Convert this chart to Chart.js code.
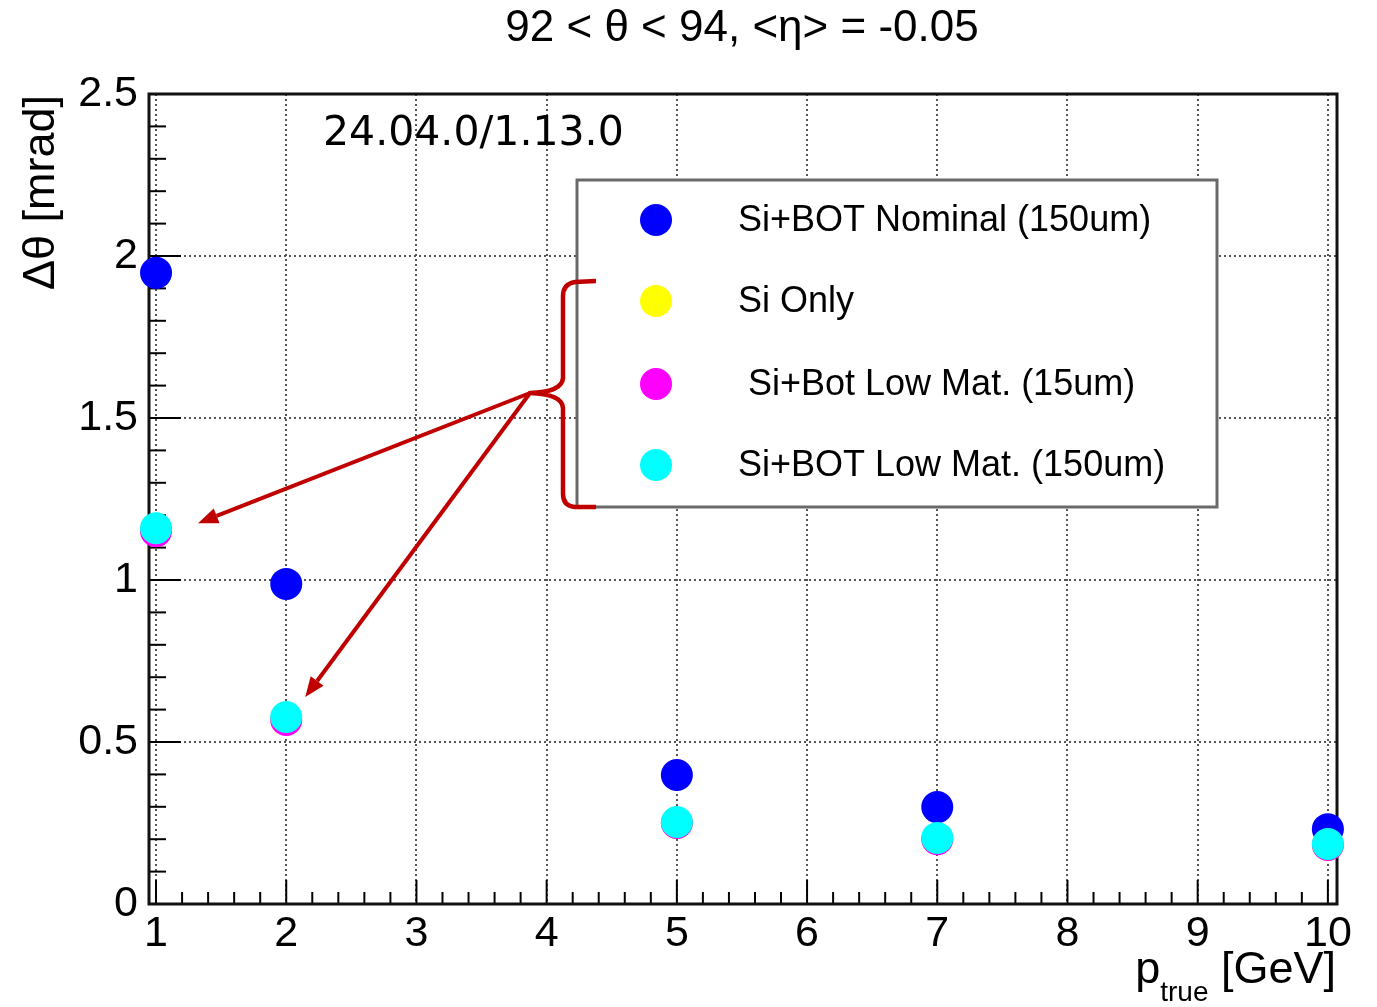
<!DOCTYPE html>
<html>
<head>
<meta charset="utf-8">
<script src="https://cdn.jsdelivr.net/npm/chart.js@4"></script>
<style>
html,body{margin:0;padding:0;background:#fff;}
canvas{display:block;}
</style>
</head>
<body>
<canvas id="c" width="1377" height="1007"></canvas>
<script>
// ---- data ----
const pTrue = [1, 2, 5, 7, 10];
const siBotNominal150 = [1.948, 0.988, 0.398, 0.299, 0.231];
const siOnly = [1.152, 0.570, 0.250, 0.201, 0.183];
const siBotLowMat15 = [1.151, 0.568, 0.250, 0.200, 0.182];
const siBotLowMat150 = [1.160, 0.577, 0.253, 0.204, 0.185];
const xTickValues = [1, 2, 3, 4, 5, 6, 7, 8, 9, 10];
const yTickValues = [0, 0.5, 1, 1.5, 2, 2.5];
const yTickLabels = ['0', '0.5', '1', '1.5', '2', '2.5'];
const seriesNames = ['Si+BOT Nominal (150um)', 'Si Only', ' Si+Bot Low Mat. (15um)', 'Si+BOT Low Mat. (150um)'];
const seriesColors = ['#0000ff', '#ffff00', '#ff00ff', '#00ffff'];
const titleText = '92 < \u03b8 < 94, <\u03b7> = -0.05';
const versionText = '24.04.0/1.13.0';

const FONT = '"Liberation Sans", Arial, Helvetica, sans-serif';
const allSeries = [siBotNominal150, siOnly, siBotLowMat15, siBotLowMat150];

const datasets = allSeries.map((vals, i) => ({
  label: seriesNames[i],
  data: pTrue.map((x, j) => ({x: x, y: vals[j]})),
  backgroundColor: seriesColors[i],
  borderColor: seriesColors[i],
  borderWidth: 0,
  pointRadius: 16,
  pointHoverRadius: 16,
  showLine: false,
  clip: false,
  order: 4 - i
}));

const decor = {
  id: 'decor',
  beforeDatasetsDraw(chart) {
    const ctx = chart.ctx, a = chart.chartArea;
    const xs = chart.scales.x, ys = chart.scales.y;
    ctx.save();
    ctx.strokeStyle = '#000';
    ctx.lineWidth = 2;
    for (let k = 0; k <= 25; k++) {
      const v = k / 10;
      const py = ys.getPixelForValue(v);
      const len = (k % 5 === 0) ? 32 : 17;
      ctx.beginPath(); ctx.moveTo(a.left, py); ctx.lineTo(a.left + len, py); ctx.stroke();
    }
    for (let k = 5; k <= 50; k++) {
      const v = k / 5;
      const px = xs.getPixelForValue(v);
      if (px < a.left || px > a.right) continue;
      const len = (k % 5 === 0) ? 24 : 12;
      ctx.beginPath(); ctx.moveTo(px, a.bottom); ctx.lineTo(px, a.bottom - len); ctx.stroke();
    }
    ctx.lineWidth = 3;
    ctx.strokeStyle = '#111';
    ctx.strokeRect(a.left, a.top, a.right - a.left, a.bottom - a.top);
    ctx.restore();
  },
  afterDraw(chart) {
    const ctx = chart.ctx, a = chart.chartArea;
    const xs = chart.scales.x, ys = chart.scales.y;
    ctx.save();
    ctx.fillStyle = '#000';
    ctx.font = '44px ' + FONT;
    ctx.textAlign = 'center';
    ctx.textBaseline = 'middle';
    ctx.fillText(titleText, 742, 29);
    ctx.save();
    ctx.translate(42, 95);
    ctx.rotate(-Math.PI / 2);
    ctx.textAlign = 'right';
    ctx.textBaseline = 'middle';
    ctx.font = '45px ' + FONT;
    ctx.fillText('\u0394\u03b8 [mrad]', 0, 0);
    ctx.restore();
    ctx.textBaseline = 'alphabetic';
    ctx.textAlign = 'right';
    ctx.font = '45px ' + FONT;
    const gev = ' [GeV]';
    const wGev = ctx.measureText(gev).width;
    ctx.fillText(gev, 1336, 983);
    ctx.font = '28px ' + FONT;
    const wTrue = ctx.measureText('true').width;
    ctx.fillText('true', 1336 - wGev, 1001);
    ctx.font = '45px ' + FONT;
    ctx.fillText('p', 1336 - wGev - wTrue, 983);
    ctx.font = '41px "DejaVu Sans", sans-serif';
    ctx.textAlign = 'left';
    ctx.textBaseline = 'middle';
    ctx.fillText(versionText, 323, 134);

    const L = {l: 577, t: 180, r: 1217, b: 507};
    ctx.fillStyle = '#fff';
    ctx.fillRect(L.l, L.t, L.r - L.l, L.b - L.t);
    ctx.strokeStyle = '#6a6a6a';
    ctx.lineWidth = 3;
    ctx.strokeRect(L.l, L.t, L.r - L.l, L.b - L.t);
    const rowsY = [220, 301, 384, 465];
    ctx.font = '36px ' + FONT;
    ctx.textAlign = 'left';
    ctx.textBaseline = 'middle';
    seriesNames.forEach((n, i) => {
      ctx.fillStyle = seriesColors[i];
      ctx.beginPath(); ctx.arc(656, rowsY[i], 16, 0, Math.PI * 2); ctx.fill();
      ctx.fillStyle = '#000';
      ctx.fillText(n, 738, rowsY[i] + 1);
    });

    const red = '#c00000';
    ctx.strokeStyle = red;
    ctx.lineWidth = 4.5;
    ctx.lineJoin = 'round';
    ctx.beginPath();
    ctx.moveTo(596, 281);
    ctx.lineTo(575, 282);
    ctx.quadraticCurveTo(563, 284, 563, 296);
    ctx.lineTo(563, 378);
    ctx.quadraticCurveTo(562, 392, 530, 393);
    ctx.quadraticCurveTo(562, 394, 563, 408);
    ctx.lineTo(563, 494);
    ctx.quadraticCurveTo(563, 506, 575, 507);
    ctx.lineTo(596, 507);
    ctx.stroke();

    const origin = {x: 530, y: 393};
    const targets = [
      {x: xs.getPixelForValue(pTrue[0]) + 42, y: ys.getPixelForValue(siBotLowMat150[0]) - 5},
      {x: xs.getPixelForValue(pTrue[1]) + 19, y: ys.getPixelForValue(siBotLowMat150[1]) - 20}
    ];
    ctx.fillStyle = red;
    ctx.lineWidth = 4;
    targets.forEach(t => {
      const ang = Math.atan2(t.y - origin.y, t.x - origin.x);
      const hl = 20, hw = 8;
      const bx = t.x - hl * Math.cos(ang), by = t.y - hl * Math.sin(ang);
      ctx.beginPath(); ctx.moveTo(origin.x, origin.y); ctx.lineTo(bx, by); ctx.stroke();
      ctx.beginPath();
      ctx.moveTo(t.x, t.y);
      ctx.lineTo(bx + hw * Math.sin(ang), by - hw * Math.cos(ang));
      ctx.lineTo(bx - hw * Math.sin(ang), by + hw * Math.cos(ang));
      ctx.closePath(); ctx.fill();
    });
    ctx.restore();
  }
};

new Chart(document.getElementById('c'), {
  type: 'scatter',
  data: {datasets: datasets},
  options: {
    responsive: false,
    animation: false,
    devicePixelRatio: 1,
    layout: {padding: {top: 94, right: 40, left: 0, bottom: 0}},
    plugins: {legend: {display: false}, title: {display: false}, tooltip: {enabled: false}},
    scales: {
      x: {
        type: 'linear',
        min: 0.946,
        max: 10.07,
        afterBuildTicks: s => { s.ticks = xTickValues.map(v => ({value: v})); },
        afterFit: s => { s.height = 103; },
        grid: {color: '#555', lineWidth: 2, drawTicks: false},
        border: {display: false, dash: [2, 3]},
        ticks: {color: '#000', font: {family: FONT, size: 43}, padding: 4, maxRotation: 0, autoSkip: false,
          callback: v => String(v)}
      },
      y: {
        type: 'linear',
        min: 0,
        max: 2.5,
        afterBuildTicks: s => { s.ticks = yTickValues.map(v => ({value: v})); },
        afterFit: s => { s.width = 149; },
        grid: {color: '#555', lineWidth: 2, drawTicks: false},
        border: {display: false, dash: [2, 3]},
        ticks: {color: '#000', font: {family: FONT, size: 43}, padding: 11, autoSkip: false,
          callback: v => yTickLabels[yTickValues.indexOf(v)]}
      }
    }
  },
  plugins: [decor]
});
</script>
</body>
</html>
